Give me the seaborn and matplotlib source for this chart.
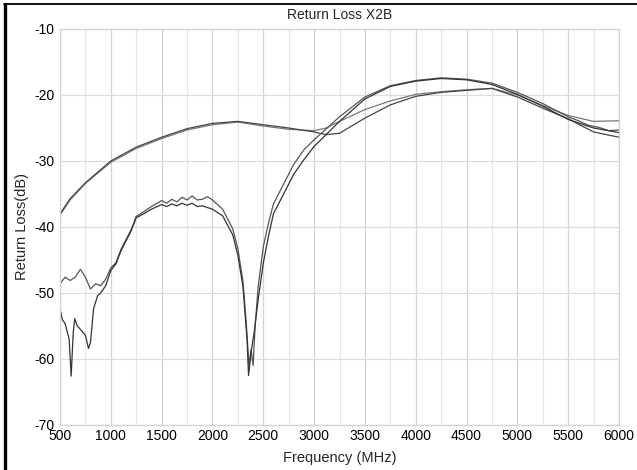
import matplotlib
matplotlib.use('Agg')
import matplotlib.pyplot as plt
from matplotlib.ticker import MultipleLocator
import seaborn as sns

# Return loss traces (MHz, dB)
freq_a = [500, 600, 750, 1000, 1250, 1500, 1750, 2000, 2250, 2500, 2750, 3000,
          3120, 3250, 3500, 3750, 4000, 4250, 4500, 4750, 5000, 5250, 5500, 5750, 6000]
loss_a1 = [-38.2, -35.9, -33.4, -30.2, -28.1, -26.6, -25.3, -24.5, -24.1, -24.7, -25.2, -25.4,
           -25.0, -24.0, -22.2, -20.9, -19.9, -19.5, -19.2, -19.0, -20.0, -21.6, -23.1, -24.0, -23.9]
loss_a2 = [-38.0, -35.7, -33.3, -30.0, -27.9, -26.4, -25.1, -24.3, -24.0, -24.5, -25.0, -25.6,
           -26.0, -25.8, -23.5, -21.5, -20.2, -19.6, -19.3, -19.0, -20.3, -22.0, -23.6, -25.6, -26.4]

freq_b1 = [500, 550, 600, 650, 700, 750, 800, 850, 900, 950, 1000, 1050, 1100, 1150, 1200,
           1250, 1300, 1400, 1500, 1550, 1600, 1650, 1700, 1750, 1800, 1850, 1900, 1950, 2000,
           2100, 2200, 2250, 2300, 2330, 2360, 2380, 2400, 2420, 2450, 2500, 2550, 2600, 2700,
           2800, 2900, 3000, 3250, 3500, 3750, 4000, 4250, 4500, 4750, 5000, 5250, 5500, 5600,
           5700, 5800, 5900, 6000]
loss_b1 = [-48.6, -47.6, -48.1, -47.6, -46.4, -47.6, -49.4, -48.6, -48.9, -47.9, -46.2, -45.4,
           -43.4, -41.9, -40.4, -38.4, -37.9, -36.9, -36.0, -36.4, -35.8, -36.2, -35.5, -35.9,
           -35.3, -35.9, -35.8, -35.4, -35.9, -37.3, -40.3, -43.3, -48.2, -54.0, -61.0, -58.5,
           -61.0, -55.0, -49.0, -43.0, -39.5, -36.5, -33.5, -30.5, -28.3, -26.8, -23.3, -20.3,
           -18.6, -17.8, -17.4, -17.6, -18.2, -19.6, -21.3, -23.3, -23.9, -24.6, -24.9, -25.4,
           -25.3]

freq_b2 = [500, 525, 550, 575, 590, 610, 630, 645, 670, 700, 750, 780, 800, 830, 870, 900,
           950, 1000, 1050, 1100, 1150, 1200, 1250, 1300, 1400, 1500, 1550, 1600, 1650, 1700,
           1750, 1800, 1850, 1900, 2000, 2100, 2200, 2250, 2300, 2340, 2355, 2380, 2410, 2450,
           2500, 2550, 2600, 2700, 2800, 2900, 3000, 3250, 3500, 3750, 4000, 4250, 4500, 4750,
           5000, 5250, 5500, 5750, 6000]
loss_b2 = [-52.4, -54.1, -54.6, -56.1, -57.0, -62.6, -56.0, -53.9, -55.0, -55.5, -56.4, -58.4,
           -57.5, -52.4, -50.4, -50.0, -48.9, -46.6, -45.6, -43.6, -42.1, -40.6, -38.6, -38.2,
           -37.3, -36.6, -36.9, -36.5, -36.8, -36.4, -36.7, -36.4, -36.9, -36.8, -37.3, -38.3,
           -41.2, -44.3, -49.0, -57.0, -62.5, -59.0, -56.0, -51.0, -45.5, -41.5, -38.0, -35.0,
           -32.0, -29.8, -27.8, -24.0, -20.6, -18.7, -17.9, -17.5, -17.7, -18.4, -19.9, -21.7,
           -23.7, -25.0, -25.7]

sns.set_style('white')
plt.rcParams['font.family'] = ['Liberation Sans', 'DejaVu Sans']
plt.rcParams['axes.unicode_minus'] = False

fig = plt.figure(figsize=(6.37, 4.70), dpi=100)
ax = fig.add_axes([60 / 637, 1 - 425 / 470, 559 / 637, 396 / 470])

sns.lineplot(x=freq_a, y=loss_a1, ax=ax, color='#777777', lw=0.9, estimator=None)
sns.lineplot(x=freq_a, y=loss_a2, ax=ax, color='#444444', lw=0.9, estimator=None)
sns.lineplot(x=freq_b1, y=loss_b1, ax=ax, color='#555555', lw=0.9, estimator=None)
sns.lineplot(x=freq_b2, y=loss_b2, ax=ax, color='#333333', lw=0.9, estimator=None)

ax.set_xlim(500, 6000)
ax.set_ylim(-70, -10)
ax.xaxis.set_major_locator(MultipleLocator(500))
ax.xaxis.set_minor_locator(MultipleLocator(250))
ax.yaxis.set_major_locator(MultipleLocator(10))
ax.grid(which='major', axis='x', color='#d2d2d2', lw=0.9)
ax.grid(which='minor', axis='x', color='#e6e6e6', lw=0.9)
ax.grid(which='major', axis='y', color='#dcdcdc', lw=0.9)
ax.set_axisbelow(True)
for s in ax.spines.values():
    s.set_color('#d2d2d2')
    s.set_linewidth(0.9)
ax.tick_params(which='both', length=0, labelsize=10, colors='black')
ax.tick_params(axis='x', pad=3)
ax.tick_params(axis='y', pad=4)

ax.set_title('Return Loss X2B', fontsize=10, pad=7)
ax.set_xlabel('Frequency (MHz)', fontsize=10.5)
ax.set_ylabel('Return Loss(dB)', fontsize=10.5)
ax.xaxis.set_label_coords(0.5, -0.066)
ax.yaxis.set_label_coords(-0.056, 0.5)

# black page frame from the source document
fig.add_artist(plt.Line2D([5 / 637, 5 / 637], [0, 1 - 4 / 470], color='black', lw=2.4))
fig.add_artist(plt.Line2D([4 / 637, 1], [1 - 4 / 470, 1 - 4 / 470], color='black', lw=1.3))

fig.savefig('out.png', dpi=100)
